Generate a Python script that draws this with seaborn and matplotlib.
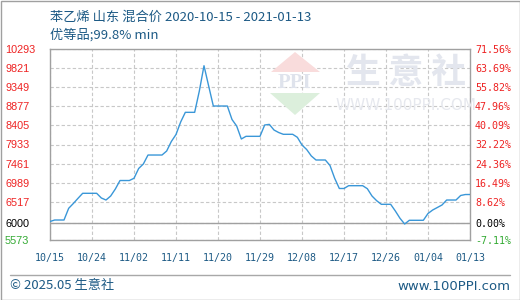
import numpy as np
import pandas as pd
import matplotlib
matplotlib.use("Agg")
import matplotlib.pyplot as plt
import matplotlib.dates as mdates
from matplotlib.patches import Polygon
import seaborn as sns

# ---- data ----
start_date = "2020-10-15"
end_date = "2021-01-13"
prices = [6030, 6067, 6067, 6067, 6356, 6475, 6603, 6727, 6727, 6727,
          6727, 6611, 6561, 6660, 6833, 7043, 7043, 7043, 7098, 7340,
          7451, 7673, 7673, 7673, 7673, 7772, 8007, 8180, 8489, 8728,
          8728, 8728, 9255, 9880, 9378, 8884, 8884, 8884, 8884, 8551,
          8390, 8069, 8135, 8135, 8135, 8135, 8415, 8430, 8291, 8229,
          8185, 8185, 8185, 8111, 7920, 7809, 7649, 7550, 7550, 7550,
          7414, 7098, 6846, 6846, 6915, 6915, 6915, 6915, 6841, 6660,
          6544, 6455, 6455, 6455, 6290, 6109, 5968, 6060, 6060, 6060,
          6060, 6228, 6314, 6376, 6438, 6561, 6561, 6561, 6673, 6697,
          6697]
base_price = 6000
y_ticks = [5573, 6000, 6517, 6989, 7461, 7933, 8405, 8877, 9349, 9821, 10293]
y_tick_labels = ["5573", "6000", "6517", "6989", "7461", "7933", "8405",
                 "8877", "9349", "9821", "10293"]
pct_labels = ["-7.11%", "0.00%", "8.62%", "16.49%", "24.36%", "32.22%",
              "40.09%", "47.96%", "55.82%", "63.69%", "71.56%"]
x_tick_labels = ["10/15", "10/24", "11/02", "11/11", "11/20", "11/29",
                 "12/08", "12/17", "12/26", "01/04", "01/13"]
title_line1 = "苯乙烯 山东 混合价 2020-10-15 - 2021-01-13"
title_line2 = "优等品;99.8% min"
footer_left = "© 2025.05 生意社"
footer_right = "www.100PPI.com"

dates = pd.date_range(start_date, end_date, freq="D")
df = pd.DataFrame({"date": dates, "price": prices})

sns.set_theme(style="white")
plt.rcParams["font.family"] = ["Noto Sans CJK SC", "DejaVu Sans"]

W, H = 520, 300
fig = plt.figure(figsize=(W / 100, H / 100), dpi=100)
fig.patch.set_facecolor("white")

def fx(px):
    return px / W

def fy(py):
    return 1 - py / H

ax = fig.add_axes([fx(50), fy(240), fx(470) - fx(50), fy(49) - fy(240)])
ax.set_facecolor("white")

# watermark
wm_kw = dict(transform=fig.transFigure, zorder=0)
fig.patches.append(Polygon([[fx(295), fy(52)], [fx(271), fy(72)], [fx(320), fy(72)]],
                           closed=True, facecolor="#f9dcdc", edgecolor="none", **wm_kw))
fig.patches.append(Polygon([[fx(270), fy(93)], [fx(320), fy(93)], [fx(295), fy(115)]],
                           closed=True, facecolor="#dcefdc", edgecolor="none", **wm_kw))
fig.text(fx(295), fy(83), "PPI", ha="center", va="center", fontsize=15,
         family="Liberation Serif", fontweight="bold", color="#dfe3ec", zorder=0)
fig.text(fx(406), fy(72), "生 意 社", ha="center", va="center", fontsize=25,
         fontweight="bold", color="#e3e6ee", zorder=0)
fig.text(fx(406), fy(105), "WWW.100PPI.COM", ha="center", va="center", fontsize=11,
         family="DejaVu Sans", color="#e6e8ee", zorder=0)

ax.patch.set_alpha(0)

sns.lineplot(data=df, x="date", y="price", ax=ax, color="#3a97d8",
             linewidth=1.0, zorder=3)

ax.set_xlim(dates[0], dates[-1])
ax.set_ylim(y_ticks[0], y_ticks[-1])

xt = pd.date_range(start_date, end_date, freq="9D")
ax.set_xticks(xt)
ax.set_xticklabels(x_tick_labels)
ax.set_yticks(y_ticks)
ax.set_yticklabels(y_tick_labels)
ax.set_xlabel("")
ax.set_ylabel("")

grid_kw = dict(color="#c8c8c8", linestyle=(0, (3, 2)), linewidth=0.8)
ax.grid(True, axis="both", **grid_kw)
ax.axhline(base_price, color="#a0a0a0", linewidth=1.0, zorder=2)

for s in ax.spines.values():
    s.set_color("#a0a0a0")
    s.set_linewidth(1.0)

ax.tick_params(axis="x", length=0, pad=9, labelsize=7.2, labelcolor="#1d5a85")
for lab in ax.get_xticklabels():
    lab.set_family("DejaVu Sans Mono")

ax.tick_params(axis="y", length=0, pad=32.4, labelsize=7.8)
ycols = ["#33aa33", "#000000"] + ["#ee2222"] * 9
for lab, c in zip(ax.get_yticklabels(), ycols):
    lab.set_color(c)
    lab.set_ha("left")
    lab.set_family("Liberation Sans")

ax2 = ax.twinx()
ax2.set_ylim(ax.get_ylim())
ax2.set_yticks(y_ticks)
ax2.set_yticklabels(pct_labels)
ax2.tick_params(axis="y", length=0, pad=3.6, labelsize=7.2)
for lab, c in zip(ax2.get_yticklabels(), ycols):
    lab.set_color(c)
    lab.set_family("DejaVu Sans Mono")
for s in ax2.spines.values():
    s.set_visible(False)
ax2.grid(False)

# titles
tcol = "#1d5a85"
fig.text(fx(50), fy(17), title_line1, ha="left", va="center", fontsize=9.5, color=tcol)
fig.text(fx(50), fy(35), title_line2, ha="left", va="center", fontsize=9.5, color=tcol)

# footer
fig.add_artist(plt.Line2D([fx(10), fx(510)], [fy(275), fy(275)],
                          transform=fig.transFigure, color="#a8a8a8", linewidth=1.0))
fig.text(fx(10), fy(286), footer_left, ha="left", va="center", fontsize=9.5, color=tcol)
fig.text(fx(510), fy(286), footer_right, ha="right", va="center", fontsize=9.5,
         color=tcol, family="DejaVu Sans")

# outer frame
fig.add_artist(plt.Rectangle((0.5 / W, 0.5 / H), 1 - 1.0 / W, 1 - 1.0 / H,
                             transform=fig.transFigure, fill=False,
                             edgecolor="#a0a0a0", linewidth=1.0))

fig.savefig("out.png", dpi=100, facecolor="white")
